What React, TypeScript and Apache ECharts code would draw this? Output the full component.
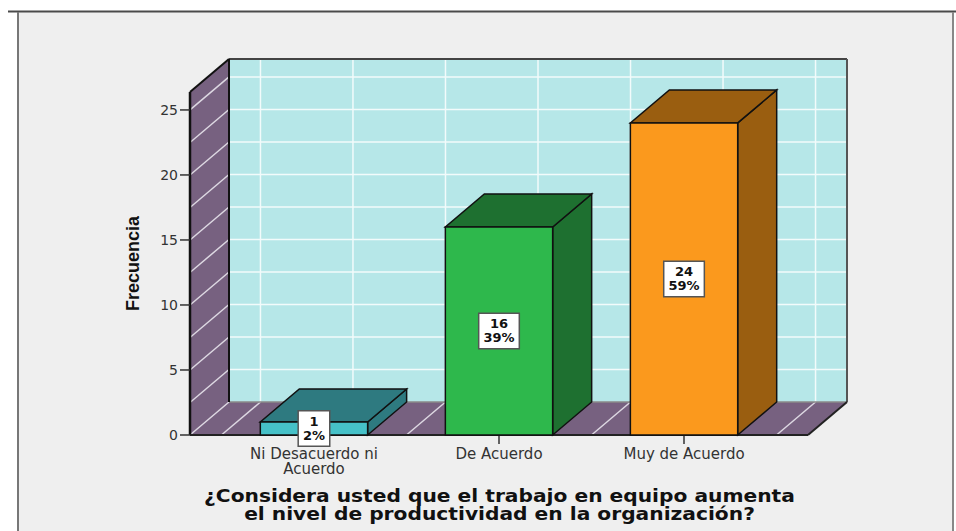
import React, { useEffect, useRef } from "react";
import * as echarts from "echarts";

const categories = ["Ni Desacuerdo ni\nAcuerdo", "De Acuerdo", "Muy de Acuerdo"];
const counts = [1, 16, 24];
const percents = ["2%", "39%", "59%"];
const frontColors = ["#46C1C8", "#2EB84C", "#FB991D"];
const sideColors = ["#2E7A80", "#1E7030", "#9A5E10"];
const yTicks = [0, 5, 10, 15, 20, 25];
const yGridValues = [0, 2.5, 5, 7.5, 10, 12.5, 15, 17.5, 20, 22.5, 25];
const xGridValues = [-0.5, 0, 0.5, 1, 1.5, 2, 2.5];
const xTitle = "¿Considera usted que el trabajo en equipo aumenta\nel nivel de productividad en la organización?";
const yTitle = "Frecuencia";

const X_MIN = -0.67;
const X_MAX = 2.67;
const Y_MAX = 26.38;
const BAR_W = 0.58;
const DX = 39;
const DY = -33;

const poly = (points: number[][], fill: string, stroke: string, lineWidth: number) => ({
  type: "polygon",
  shape: { points },
  style: { fill, stroke, lineWidth, lineJoin: "miter" },
});
const seg = (a: number[], b: number[], stroke: string, lineWidth: number) => ({
  type: "line",
  shape: { x1: a[0], y1: a[1], x2: b[0], y2: b[1] },
  style: { stroke, lineWidth },
});
const back = (p: number[]) => [p[0] + DX, p[1] + DY];

function renderWalls(_: any, api: any) {
  const bl = api.coord([X_MIN, 0]);
  const br = api.coord([X_MAX, 0]);
  const tl = api.coord([X_MIN, Y_MAX]);
  const tr = api.coord([X_MAX, Y_MAX]);
  const children: any[] = [
    poly([back(bl), back(br), back(tr), back(tl)], "#B6E7E8", "none", 0),
    poly([bl, back(bl), back(tl), tl], "#776180", "none", 0),
    poly([bl, br, back(br), back(bl)], "#776180", "none", 0),
  ];
  yGridValues.forEach((v) => {
    const a = api.coord([X_MIN, v]);
    const b = api.coord([X_MAX, v]);
    if (v > 0) children.push(seg(back(a), back(b), "#F2FBFB", 1.5));
    if (v > 0) children.push(seg(a, back(a), "#DDD8E2", 1.5));
  });
  children.push(seg(bl, back(bl), "#DDD8E2", 1.5));
  xGridValues.forEach((v) => {
    const a = api.coord([v, 0]);
    const t = api.coord([v, Y_MAX]);
    children.push(seg(back(a), back(t), "#F2FBFB", 1.5));
    children.push(seg(a, back(a), "#DDD8E2", 1.5));
  });
  children.push(seg(back(bl), back(br), "#8A8A8A", 1.5));
  children.push(seg(back(tl), back(tr), "#444444", 2));
  children.push(seg(back(tr), back(br), "#555555", 2));
  children.push(seg(back(bl), back(tl), "#111111", 2));
  children.push(seg(tl, back(tl), "#111111", 2));
  children.push(seg(bl, tl, "#111111", 2.5));
  children.push(seg(bl, br, "#222222", 2));
  children.push(seg(br, back(br), "#222222", 2));
  yTicks.forEach((v) => {
    const a = api.coord([X_MIN, v]);
    children.push(seg([a[0] - 10, a[1]], a, "#333333", 1.5));
  });
  return { type: "group", children };
}

function renderBar(params: any, api: any) {
  const i = params.dataIndex;
  const x = api.value(0);
  const v = api.value(1);
  const fl = api.coord([x - BAR_W / 2, 0]);
  const fr = api.coord([x + BAR_W / 2, 0]);
  const tl = api.coord([x - BAR_W / 2, v]);
  const tr = api.coord([x + BAR_W / 2, v]);
  const mid = api.coord([x, v / 2]);
  return {
    type: "group",
    children: [
      poly([fr, back(fr), back(tr), tr], sideColors[i], "#111111", 1.5),
      poly([tl, tr, back(tr), back(tl)], sideColors[i], "#111111", 1.5),
      poly([fl, fr, tr, tl], frontColors[i], "#111111", 1.5),
      {
        type: "text",
        z2: 10,
        style: {
          x: mid[0],
          y: mid[1],
          text: `${counts[i]}\n${percents[i]}`,
          align: "center",
          verticalAlign: "middle",
          font: 'bold 13px "DejaVu Sans"',
          lineHeight: 14,
          fill: "#111111",
          backgroundColor: "#FFFFFF",
          borderColor: "#555555",
          borderWidth: 1.5,
          padding: [3, 4, 3, 4],
        },
      },
    ],
  };
}

export default function App() {
  const ref = useRef<HTMLDivElement>(null);
  useEffect(() => {
    document.body.style.margin = "0";
    const chart = echarts.init(ref.current!, null, { renderer: "svg" });
    chart.setOption({
      animation: false,
      backgroundColor: "#FFFFFF",
      graphic: [
        { type: "rect", z: -10, shape: { x: 18, y: 12, width: 935, height: 519 }, style: { fill: "#EFEFEF" } },
        { type: "line", z: -9, shape: { x1: 8, y1: 11.5, x2: 956, y2: 11.5 }, style: { stroke: "#4A4A4A", lineWidth: 2 } },
        { type: "line", z: -9, shape: { x1: 18, y1: 12, x2: 18, y2: 531 }, style: { stroke: "#777777", lineWidth: 2 } },
        { type: "line", z: -9, shape: { x1: 953, y1: 12, x2: 953, y2: 531 }, style: { stroke: "#888888", lineWidth: 2 } },
        {
          type: "text",
          z: 5,
          x: 499.5,
          y: 505,
          scaleX: 1.124,
          style: {
            text: xTitle,
            align: "center",
            verticalAlign: "middle",
            font: 'bold 18px "DejaVu Sans"',
            lineHeight: 18,
            fill: "#111111",
          },
        },
      ],
      grid: { left: 190, top: 92, width: 618, height: 343, containLabel: false },
      xAxis: {
        type: "value",
        min: X_MIN,
        max: X_MAX,
        splitLine: { show: false },
        axisLine: { show: false },
        axisTick: { show: true, customValues: [0, 1, 2], length: 9, lineStyle: { color: "#333333", width: 1.5 } },
        axisLabel: {
          customValues: [0, 1, 2],
          formatter: (v: number) => categories[v] ?? "",
          color: "#333333",
          fontFamily: "DejaVu Sans",
          fontSize: 15,
          lineHeight: 15,
          margin: 11,
          verticalAlign: "top",
        },
      },
      yAxis: {
        type: "value",
        min: 0,
        max: Y_MAX,
        splitLine: { show: false },
        axisLine: { show: false },
        axisTick: { show: false },
        axisLabel: {
          customValues: yTicks,
          color: "#333333",
          fontFamily: "DejaVu Sans",
          fontSize: 14,
          margin: 12,
        },
        name: yTitle,
        nameLocation: "middle",
        nameRotate: 90,
        nameGap: 48,
        nameTextStyle: { color: "#111111", fontFamily: "Liberation Sans", fontWeight: "bold", fontSize: 18 },
      },
      series: [
        { type: "custom", name: "walls", renderItem: renderWalls, data: [[0, 0]], clip: false, silent: true, z: 1 },
        {
          type: "custom",
          name: "Frecuencia",
          renderItem: renderBar,
          data: counts.map((c, i) => [i, c]),
          encode: { x: 0, y: 1 },
          clip: false,
          z: 3,
        },
      ],
    });
    return () => chart.dispose();
  }, []);
  return <div ref={ref} style={{ width: 956, height: 531 }} />;
}
